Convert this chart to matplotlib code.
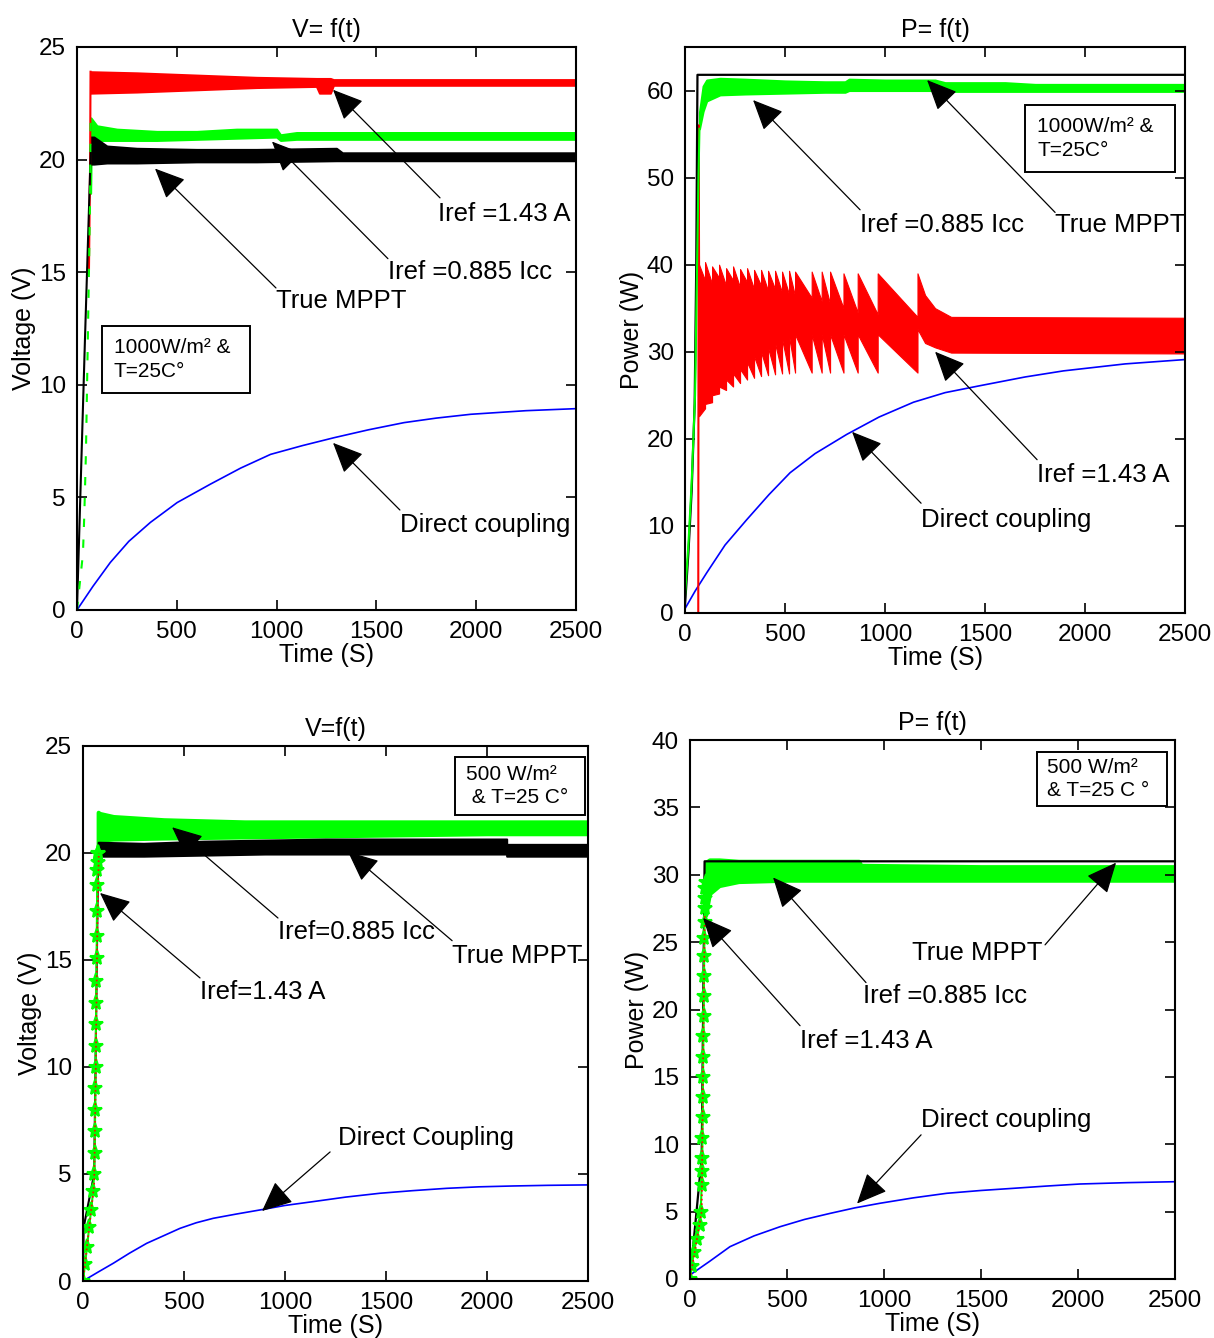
import matplotlib
matplotlib.use("Agg")
import matplotlib.pyplot as plt
from matplotlib.patches import ArrowStyle

plt.rcParams['font.family'] = ['Liberation Sans', 'DejaVu Sans']
plt.rcParams['font.size'] = 17

# ---------------- data: 1000 W/m2, voltage ----------------
v1_blue_t = [0, 80, 167, 260, 368, 502, 669, 820, 970, 1130, 1288, 1460, 1639, 1800, 1973, 2250, 2500]
v1_blue_v = [0, 1.05, 2.11, 3.05, 3.89, 4.77, 5.59, 6.3, 6.91, 7.3, 7.65, 8.0, 8.32, 8.52, 8.69, 8.85, 8.94]

v1_black_rise_t = [0, 10, 40, 66, 70]
v1_black_rise_v = [0, 3, 12, 19.5, 20.6]
v1_green_rise_t = [0, 30, 37, 45, 60, 66, 68]
v1_green_rise_v = [0, 2.5, 4.3, 7, 15, 18.5, 21.8]
v1_red_rise_t = [60, 66, 68]
v1_red_rise_v = [15, 20, 23.9]

v1_red_t = [68, 300, 600, 900, 1200, 1215, 1270, 1285, 1330, 2500]
v1_red_hi = [23.9, 23.85, 23.75, 23.65, 23.6, 23.6, 23.6, 23.55, 23.55, 23.55]
v1_red_lo = [22.95, 23.0, 23.1, 23.2, 23.25, 22.95, 22.95, 23.3, 23.3, 23.3]

v1_green_t = [68, 70, 100, 200, 400, 600, 800, 1000, 1020, 1100, 1500, 2500]
v1_green_hi = [18.5, 21.85, 21.5, 21.35, 21.25, 21.25, 21.35, 21.35, 21.1, 21.2, 21.2, 21.2]
v1_green_lo = [18.5, 20.9, 20.85, 20.85, 20.85, 20.9, 20.95, 21.0, 20.85, 20.9, 20.9, 20.9]

v1_black_t = [70, 85, 150, 300, 600, 900, 1300, 1330, 2500]
v1_black_hi = [21.0, 21.0, 20.6, 20.5, 20.45, 20.45, 20.5, 20.3, 20.3]
v1_black_lo = [19.8, 19.8, 19.85, 19.85, 19.9, 19.9, 19.95, 19.95, 19.95]

# ---------------- data: 1000 W/m2, power ----------------
p1_blue_t = [0, 50, 108, 200, 308, 420, 525, 650, 808, 970, 1142, 1300, 1475, 1700, 1892, 2200, 2500]
p1_blue_p = [0.5, 2.5, 4.6, 7.8, 10.7, 13.6, 16.1, 18.3, 20.5, 22.5, 24.2, 25.3, 26.1, 27.1, 27.8, 28.6, 29.1]

p1_black_t = [0, 17, 33, 48, 56, 62, 2500]
p1_black_p = [1, 7, 14, 24, 40, 61.8, 61.8]

p1_green_rise_t = [0, 17, 33, 50, 60, 67, 72]
p1_green_rise_p = [2, 8, 15, 25, 40, 50, 55.6]
p1_green_t = [72, 90, 108, 175, 300, 500, 700, 800, 820, 1000, 1250, 1300, 1600, 1750, 2500]
p1_green_hi = [57.5, 60.5, 61.2, 61.4, 61.3, 61.1, 61.0, 61.0, 61.3, 61.2, 61.2, 60.9, 60.9, 60.7, 60.7]
p1_green_lo = [55.6, 57.6, 58.8, 59.5, 59.6, 59.7, 59.8, 59.8, 60.0, 60.0, 60.0, 59.9, 59.9, 59.9, 59.9]

p1_red_rise_t = [66, 68, 70]
p1_red_rise_p = [0, 56, 40]
# sawtooth oscillation of the Iref = 1.43 A curve, read tooth by tooth
p1_tooth_t = [70, 100, 135, 170, 205, 240, 275, 310, 345, 380, 415, 450, 485,
              520, 550, 633, 683, 725, 792, 863, 963, 1162]
p1_tooth_hi = [40.0, 40.3, 39.8, 40.0, 39.6, 39.8, 39.5, 39.6, 39.4, 39.4, 39.3,
               39.3, 39.2, 39.3, 39.2, 39.2, 39.2, 39.2, 39.0, 39.0, 39.0, 39.0]
p1_tooth_hi_end = [38.2, 37.8, 38.5, 37.6, 38.2, 37.4, 38.0, 37.2, 37.6, 37.0, 37.2,
                   36.8, 36.6, 36.4, 36.2, 35.8, 35.5, 35.0, 34.5, 34.3, 34.0, 36.5]
p1_tooth_lo = [22.6, 24.0, 25.0, 26.0, 26.8, 27.5, 28.0, 28.8, 29.5, 30.0, 30.5,
               31.0, 31.5, 31.8, 32.0, 32.0, 32.0, 32.0, 32.0, 32.0, 32.0, 32.6]
p1_tooth_lo_end = [23.5, 24.2, 25.2, 25.6, 26.0, 26.4, 26.8, 27.0, 27.2, 27.3, 27.4,
                   27.5, 27.5, 27.6, 27.6, 27.6, 27.6, 27.6, 27.6, 27.6, 27.6, 31.0]
p1_tail_t = [1200, 1250, 1330, 2500]
p1_tail_hi = [36.5, 35.0, 34.0, 33.9]
p1_tail_lo = [31.0, 30.5, 29.9, 29.8]

# ---------------- data: 500 W/m2, voltage ----------------
v2_blue_t = [0, 75, 150, 230, 315, 400, 480, 560, 645, 760, 876, 1000, 1140, 1300,
             1470, 1630, 1800, 1960, 2130, 2300, 2500]
v2_blue_v = [0, 0.42, 0.83, 1.3, 1.76, 2.12, 2.46, 2.72, 2.93, 3.13, 3.32, 3.53, 3.71,
             3.92, 4.10, 4.22, 4.33, 4.40, 4.44, 4.47, 4.49]

v2_black_rise_t = [0, 3, 55, 75]
v2_black_rise_v = [0, 2.5, 5, 20]
v2_red_rise_t = [0, 55, 62, 70, 78]
v2_red_rise_v = [0, 4.5, 9, 16, 20]
v2_green_rise_t = [0, 10, 20, 30, 40, 50, 55, 57, 59, 60, 61, 62, 63, 64, 65, 66,
                   67, 68, 69, 70, 71, 72, 73, 75]
v2_green_rise_v = [0, 0.8, 1.6, 2.5, 3.3, 4.2, 5.0, 6.0, 7.0, 8.0, 9.0, 10.0, 11.0,
                   12.0, 13.0, 14.0, 15.1, 16.1, 17.3, 18.5, 19.2, 19.6, 20.0, 20.0]
v2_green_t = [75, 80, 150, 400, 800, 1200, 1600, 2000, 2500]
v2_green_hi = [21.9, 21.85, 21.7, 21.55, 21.45, 21.45, 21.45, 21.45, 21.45]
v2_green_lo = [20.0, 20.6, 20.65, 20.7, 20.75, 20.8, 20.85, 20.9, 20.9]
v2_black_t = [75, 300, 600, 900, 1200, 2097, 2097, 2500]
v2_black_hi = [20.5, 20.45, 20.55, 20.6, 20.65, 20.65, 20.4, 20.4]
v2_black_lo = [19.85, 19.85, 19.9, 19.95, 19.95, 19.95, 19.85, 19.85]

# ---------------- data: 500 W/m2, power ----------------
p2_blue_t = [0, 100, 206, 330, 464, 590, 722, 850, 979, 1150, 1323, 1500, 1667, 1840, 2010, 2250, 2500]
p2_blue_p = [0.3, 1.3, 2.40, 3.2, 3.88, 4.42, 4.87, 5.28, 5.62, 6.02, 6.36, 6.57, 6.73, 6.9, 7.05, 7.15, 7.22]

p2_black_t = [0, 60, 75, 2500]
p2_black_p = [0, 9, 31.0, 31.0]
p2_red_rise_t = [0, 60, 70, 76]
p2_red_rise_p = [0, 5, 20, 27]
p2_green_rise_t = [0, 10, 20, 35, 50, 55, 60, 62, 63, 64, 65, 66, 67, 68, 69, 70,
                   71, 72, 73, 74, 75, 76, 77, 78, 80]
p2_green_rise_p = [0, 1, 2, 3, 4, 5, 7, 8, 9, 10.5, 12, 13.5, 15, 16.5, 18, 19.5,
                   21, 22.5, 24, 25.3, 26.5, 27.5, 28.3, 29, 29.5]
p2_green_t = [80, 100, 150, 250, 500, 870, 880, 1500, 2500]
p2_green_hi = [30.9, 31.1, 31.1, 31.0, 31.0, 31.0, 30.7, 30.6, 30.6]
p2_green_lo = [27.0, 28.6, 29.2, 29.5, 29.6, 29.6, 29.6, 29.6, 29.6]

RED, GREEN, BLUE = '#ff0000', '#00ff00', '#0000ff'


def tooth_band(t, hi, hi_end, lo, lo_end, t_end):
    xs, up, dn = [], [], []
    for i in range(len(t)):
        nxt = t[i + 1] if i + 1 < len(t) else t_end
        xs += [t[i], nxt]
        up += [hi[i], hi_end[i]]
        dn += [lo[i], lo_end[i]]
    return xs, up, dn


def style_axes(ax, ylim, yticks, title, ylabel):
    ax.set_xlim(0, 2500)
    ax.set_ylim(*ylim)
    ax.set_xticks([0, 500, 1000, 1500, 2000, 2500])
    ax.set_yticks(yticks)
    ax.tick_params(direction='in', top=True, right=True, length=7, width=1.2,
                   labelsize=17.5, pad=8)
    for s in ax.spines.values():
        s.set_linewidth(1.5)
    ax.set_title(title, fontsize=18, pad=7)
    ax.set_xlabel('Time (S)', fontsize=18, labelpad=0)
    ax.set_ylabel(ylabel, fontsize=18, labelpad=2)


def note(ax, label, tip, tail, txt, fs=18.5):
    ax.annotate('', xy=tip, xytext=tail,
                arrowprops=dict(arrowstyle=ArrowStyle('-|>', head_length=1.0, head_width=0.45),
                                color='black', lw=0.9, mutation_scale=19,
                                shrinkA=0, shrinkB=0))
    ax.text(txt[0], txt[1], label, ha='left', va='center', fontsize=fs)


def box(ax, x0, y0, w, h, lines, fs=15):
    ax.add_patch(plt.Rectangle((x0, y0), w, h, transform=ax.transAxes,
                               fill=False, ec='black', lw=1.4, zorder=6))
    ax.text(x0 + 0.08 * w, y0 + h * 0.5, lines, transform=ax.transAxes,
            ha='left', va='center', fontsize=fs, linespacing=1.3, zorder=6)


fig = plt.figure(figsize=(12.14, 13.38), dpi=100)

# ---- top left: V = f(t), 1000 W/m2
ax = fig.add_axes([0.0634, 0.5441, 0.411, 0.4208])
ax.plot(v1_blue_t, v1_blue_v, color=BLUE, lw=1.2)
ax.plot(v1_red_rise_t, v1_red_rise_v, color=RED, lw=1.5)
ax.fill_between(v1_red_t, v1_red_lo, v1_red_hi, color=RED, lw=1.5)
ax.plot(v1_black_rise_t, v1_black_rise_v, color='black', lw=1.5)
ax.plot(v1_green_rise_t, v1_green_rise_v, color=GREEN, lw=1.5, dashes=(4, 6))
ax.fill_between(v1_green_t, v1_green_lo, v1_green_hi, color=GREEN, lw=1.5)
ax.fill_between(v1_black_t, v1_black_lo, v1_black_hi, color='black', lw=1.5)
style_axes(ax, (0, 25), [0, 5, 10, 15, 20, 25], 'V= f(t)', 'Voltage (V)')
note(ax, 'Iref =1.43 A', (1283, 23.1), (1819, 18.3), (1809, 17.6))
note(ax, 'Iref =0.885 Icc', (977, 20.8), (1558, 15.6), (1558, 15.0))
note(ax, 'True MPPT', (391, 19.6), (997, 14.3), (997, 13.7))
note(ax, 'Direct coupling', (1283, 7.42), (1618, 4.44), (1618, 3.77))
box(ax, 0.05, 0.385, 0.297, 0.119, '1000W/m² &\nT=25C°')

# ---- top right: P = f(t), 1000 W/m2
ax = fig.add_axes([0.5643, 0.5419, 0.4119, 0.4230])
ax.plot(p1_blue_t, p1_blue_p, color=BLUE, lw=1.2)
ax.plot(p1_red_rise_t, p1_red_rise_p, color=RED, lw=1.5)
xs, up, dn = tooth_band(p1_tooth_t, p1_tooth_hi, p1_tooth_hi_end,
                        p1_tooth_lo, p1_tooth_lo_end, p1_tail_t[0])
ax.fill_between(xs + p1_tail_t, dn + p1_tail_lo, up + p1_tail_hi, color=RED, lw=0.8)
ax.plot(p1_black_t, p1_black_p, color='black', lw=1.6)
ax.plot(p1_green_rise_t, p1_green_rise_p, color=GREEN, lw=1.5)
ax.fill_between(p1_green_t, p1_green_lo, p1_green_hi, color=GREEN, lw=1.5)
style_axes(ax, (0, 65), [0, 10, 20, 30, 40, 50, 60], 'P= f(t)', 'Power (W)')
note(ax, 'Iref =0.885 Icc', (340, 58.9), (875, 46.3), (875, 44.6))
note(ax, 'True MPPT', (1210, 61.2), (1850, 46.0), (1850, 44.6))
note(ax, 'Iref =1.43 A', (1250, 30.0), (1760, 17.6), (1760, 15.85))
note(ax, 'Direct coupling', (835, 20.8), (1180, 12.6), (1180, 10.7))
box(ax, 0.68, 0.779, 0.30, 0.119, '1000W/m² &\nT=25C°')

# ---- bottom left: V = f(t), 500 W/m2
ax = fig.add_axes([0.0684, 0.0426, 0.416, 0.3999])
ax.plot(v2_blue_t, v2_blue_v, color=BLUE, lw=1.2)
ax.plot(v2_black_rise_t, v2_black_rise_v, color='black', lw=1.5)
ax.fill_between(v2_green_t, v2_green_lo, v2_green_hi, color=GREEN, lw=3, ec=GREEN)
ax.fill_between(v2_black_t, v2_black_lo, v2_black_hi, color='black', lw=1.5)
ax.plot(v2_green_rise_t, v2_green_rise_v, color=GREEN, lw=1.5, marker='*', ms=11, mew=1.5)
ax.plot(v2_red_rise_t, v2_red_rise_v, color=RED, lw=1.2, ls=':')
style_axes(ax, (0, 25), [0, 5, 10, 15, 20, 25], 'V=f(t)', 'Voltage (V)')
note(ax, 'Iref=0.885 Icc', (441, 21.2), (965, 16.96), (965, 16.3))
note(ax, 'True MPPT', (1312, 20.05), (1827, 15.9), (1827, 15.2))
note(ax, 'Iref=1.43 A', (84, 18.13), (579, 14.16), (579, 13.5))
note(ax, 'Direct Coupling', (886, 3.27), (1223, 6.03), (1262, 6.68))
box(ax, 0.737, 0.871, 0.257, 0.108, '500 W/m²\n & T=25 C°')

# ---- bottom right: P = f(t), 500 W/m2
ax = fig.add_axes([0.5684, 0.0441, 0.3995, 0.4028])
ax.plot(p2_blue_t, p2_blue_p, color=BLUE, lw=1.2)
ax.plot(p2_black_t, p2_black_p, color='black', lw=1.6)
ax.fill_between(p2_green_t, p2_green_lo, p2_green_hi, color=GREEN, lw=3, ec=GREEN)
ax.plot(p2_green_rise_t, p2_green_rise_p, color=GREEN, lw=1.5, marker='*', ms=11, mew=1.5)
ax.plot(p2_red_rise_t, p2_red_rise_p, color=RED, lw=1.2, ls=':')
style_axes(ax, (0, 40), [0, 5, 10, 15, 20, 25, 30, 35, 40], 'P= f(t)', 'Power (W)')
note(ax, 'True MPPT', (2196, 30.9), (1830, 24.8), (1144, 24.2))
note(ax, 'Iref =0.885 Icc', (428, 29.8), (907, 22.0), (892, 21.0))
note(ax, 'Iref =1.43 A', (67, 26.8), (567, 18.8), (567, 17.7))
note(ax, 'Direct coupling', (861, 5.6), (1191, 10.7), (1191, 11.8))
box(ax, 0.715, 0.878, 0.268, 0.10, '500 W/m²\n& T=25 C °')

fig.savefig('out.png', dpi=100)
